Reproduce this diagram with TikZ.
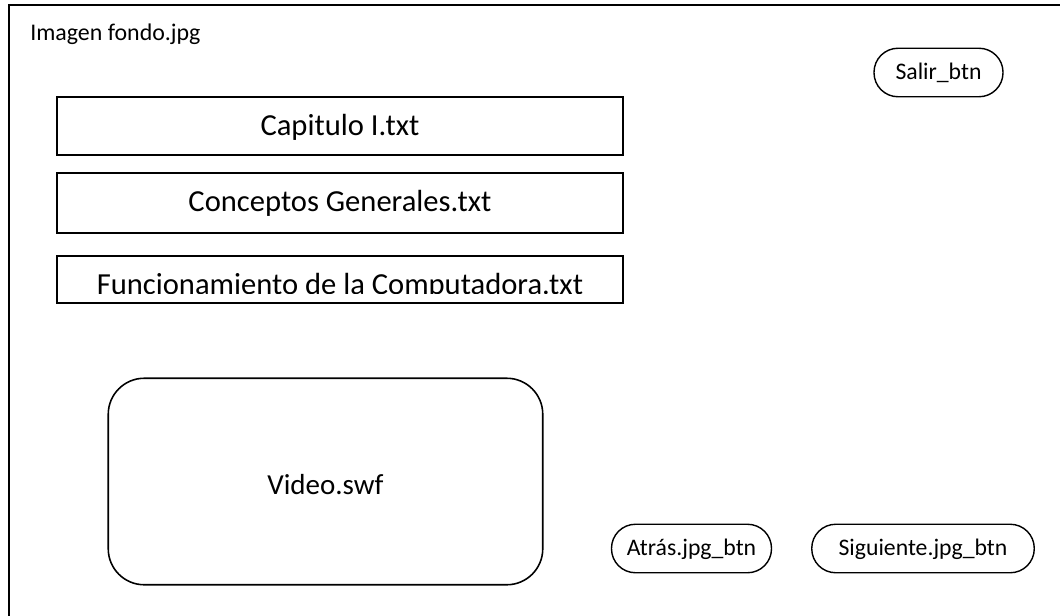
\documentclass[tikz,border=0pt]{standalone}
\usepackage{fontspec}
\setmainfont{Carlito}
\usetikzlibrary{shapes.geometric, positioning, calc}
\tikzset{
    txtbox/.style={
        draw,
        rectangle,
        line width=0.9pt,
        minimum width=11.32cm,
        inner sep=0pt,
    },
    btn/.style={
        draw,
        rectangle,
        rounded corners=0.48cm,
        line width=0.8pt,
        minimum height=0.97cm,
        inner sep=0pt,
        text height=0.31cm,
        text depth=0.04cm,
        font=\fontsize{13.5}{16}\selectfont,
    },
    bigtxt/.style={
        anchor=base,
        inner sep=0pt,
        font=\fontsize{17.4}{20}\selectfont,
    }
}
\begin{document}
\begin{tikzpicture}

\tikzstyle{frame} = [draw, line width=1pt]

\useasboundingbox (0,0) rectangle (21.2,-12.3);
\clip (0,0) rectangle (21.2,-12.3);

\draw[frame] (0.18,-0.10) rectangle (21.6,-12.7);

\node[anchor=base west, inner sep=0pt, font=\fontsize{13.6}{16}\selectfont] (fondo) at (0.60,-0.80) {Imagen fondo.jpg};

% text boxes
\node[txtbox, minimum height=1.16cm] (cap) at (6.80,-2.52) {};
\node[txtbox, minimum height=1.20cm] (conc) at (6.80,-4.06) {};
\node[txtbox, minimum height=0.94cm] (func) at (6.80,-5.59) {};

\node[bigtxt] (capl) at ($(cap.north)+(0,-0.794)$) {Capitulo I.txt};
\node[bigtxt] (concl) at ($(conc.north)+(0,-0.786)$) {Conceptos Generales.txt};

\begin{scope}
\clip (func.north west) rectangle ($(func.south east)+(0,0.20)$);
\node[bigtxt] (funcl) at ($(func.north)+(0,-0.79)$) {Funcionamiento de la Computadora.txt};
\end{scope}

% video
\node[draw, rectangle, rounded corners=0.72cm, line width=0.9pt, minimum width=8.69cm, minimum height=4.13cm] (video) at (6.51,-9.63) {};
\node[bigtxt, font=\fontsize{16.5}{20}\selectfont] (videol) at ($(video.center)+(0,-0.25)$) {Video.swf};

% buttons
\node[btn, minimum width=2.58cm] (salir) at (18.77,-1.45) {Salir\_btn};
\node[btn, minimum width=3.20cm] (atras) at (13.83,-10.97) {Atrás.jpg\_btn};
\node[btn, minimum width=4.45cm] (sig) at (18.46,-10.97) {Siguiente.jpg\_btn};

\end{tikzpicture}
\end{document}
